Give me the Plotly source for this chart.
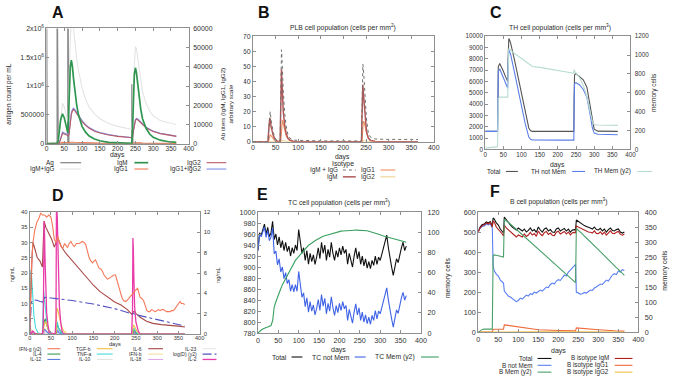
import plotly.graph_objects as go

W, H = 676, 383
FONT = "Liberation Sans, Arial, sans-serif"
AX = "#8f8f8f"
TXT = "#2a2a2a"

# ---------------- Panel A : antigen and antibody titers ----------------
A_ag_days = [0, 0, 2, 30, 30, 33, 60, 60, 63, 240, 240, 243, 365]
A_ag = [0, 3e6, 0, 0, 3e6, 0, 0, 3e6, 0, 0, 1.03e6, 0, 0]
A_days = [0, 30, 33, 36, 40, 45, 50, 55, 60, 62, 64, 67, 70, 73, 76, 80, 85, 90, 100, 110,
          120, 135, 150, 175, 200, 240, 242, 244, 247, 250, 253, 256, 260, 265, 270, 280, 290,
          300, 320, 340, 365]
A_igm_igg = [0, 0, 2000, 7000, 16000, 21000, 19000, 15000, 11500, 19000, 38000, 55000, 62000,
             64000, 60000, 52000, 44000, 38000, 29000, 23000, 19000, 15500, 13000, 10500, 9000,
             7500, 12000, 30000, 45000, 50500, 49500, 45000, 39000, 32000, 27000, 21000, 17000,
             14500, 12000, 11000, 10000]
A_igm = [0, 0, 1500, 6000, 12500, 15500, 13500, 9500, 5500, 14000, 30000, 40000, 43500, 40000,
         34000, 27000, 20000, 15000, 9000, 6000, 4000, 2400, 1500, 700, 350, 150, 8000, 24000,
         36000, 39500, 37000, 32000, 25000, 18000, 13000, 8000, 5000, 3300, 1800, 1100, 700]
A_igg1 = [0, 0, 0, 50, 300, 700, 600, 500, 400, 400, 500, 700, 800, 800, 750, 700, 650, 600, 500,
          400, 350, 300, 250, 200, 150, 120, 150, 300, 450, 500, 500, 480, 450, 400, 350, 300,
          250, 220, 180, 150, 120]
A_igg2 = [0, 0, 0, 200, 2500, 5300, 5000, 4600, 4300, 4100, 5600, 11400, 15300, 17000, 17800,
          17000, 15500, 14000, 11500, 9500, 8000, 6500, 5500, 4500, 3800, 3100, 3500, 6000, 9500,
          12000, 12700, 12500, 11800, 10800, 9800, 8300, 7200, 6300, 5200, 4500, 3800]
A_igg12 = [0, 0, 0, 250, 2800, 6000, 5600, 5100, 4700, 4500, 6100, 12100, 16100, 17800, 18550,
           17700, 16150, 14600, 12000, 9900, 8350, 6800, 5750, 4700, 3950, 3220, 3650, 6300, 9950,
           12500, 13200, 12980, 12250, 11200, 10150, 8600, 7450, 6520, 5380, 4650, 3920]

# ---------------- Panel B : PLB cells ----------------
B_days = [0, 33, 35, 37, 38, 40, 42, 45, 48, 52, 60, 61, 62, 63, 64, 65, 67, 70, 73, 77, 82, 90,
          150, 240, 241, 242, 243, 244, 246, 248, 251, 255, 260, 270, 300, 365]
B_all = [0, 0, 9, 19.5, 20, 14.5, 10.5, 6, 3, 1, 0.3, 20, 50, 61, 56, 47, 34, 19, 11, 5, 2.2, 1,
         0.5, 0.5, 15.5, 40, 51.5, 49, 40, 28, 15, 6, 3, 1.8, 1.5, 1.5]
B_igm = [0, 0, 8, 15.5, 15, 10, 7, 4, 2, 0.5, 0, 20, 46, 48, 40, 30, 20, 11, 6, 2.5, 1, 0.2, 0, 0,
         15, 35, 38, 33, 24, 15, 7, 2.5, 0.8, 0.2, 0, 0]
B_igg1 = [0, 0, 1, 3.5, 4.5, 4, 3, 1.5, 0.7, 0.2, 0, 0, 2, 6, 12, 14.5, 12, 7, 4, 1.8, 0.7, 0.1, 0,
          0, 0, 4, 10, 13.5, 13, 10, 6, 2.5, 1, 0.3, 0, 0]
B_igg2 = [0, 0, 0, 0.2, 0.3, 0.3, 0.2, 0.1, 0, 0, 0, 0, 0, 0.3, 0.6, 0.8, 0.7, 0.4, 0.2, 0.1, 0, 0,
          0, 0, 0, 0, 0.3, 0.6, 0.7, 0.5, 0.3, 0.1, 0, 0, 0, 0]

# ---------------- Panel C : TH cells ----------------
C_days = [0, 5, 10, 15, 20, 25, 30, 34, 35, 36, 40, 45, 50, 55, 60, 62, 63, 64, 65, 67, 70, 80,
          90, 100, 110, 120, 125, 130, 150, 200, 240, 244, 245, 246, 250, 260, 270, 280, 290, 295,
          300, 310, 365]
C_total = [1600, 1600, 1620, 1640, 1620, 1600, 1600, 1600, 4000, 7300, 7600, 7300, 6900, 6500,
           6100, 6000, 8000, 9600, 9800, 9700, 9400, 8000, 6400, 4800, 3200, 1900, 1650, 1600,
           1600, 1600, 1600, 1600, 5000, 6600, 6700, 6450, 6150, 5500, 3800, 2600, 1800, 1620, 1600]
C_notmem = [1600, 1600, 1620, 1650, 1620, 1600, 1600, 1600, 3800, 6900, 7100, 6700, 6300, 5900,
            5500, 5400, 7500, 8700, 8800, 8650, 8400, 6900, 5300, 3800, 2300, 1100, 900, 850, 830,
            830, 830, 830, 4500, 5800, 5900, 5700, 5300, 4600, 2900, 1900, 1450, 1350, 1300]
C_mem = [15, 18, 20, 22, 22, 25, 28, 30, 300, 540, 555, 555, 555, 555, 555, 555, 800, 1050, 1070,
         1065, 1050, 1020, 990, 960, 930, 900, 890, 880, 870, 840, 810, 805, 850, 830, 810, 760,
         680, 560, 380, 300, 265, 260, 255]

# ---------------- Panel D : cytokines ----------------
D_ifng_days = [0, 2, 4, 8, 12, 17, 22, 26, 30, 35, 40, 45, 50, 54, 58, 62, 66, 70, 74, 78,
               82, 86, 89, 93, 97, 101, 105, 110, 117, 124, 128, 132, 136, 140, 144, 148, 152, 155,
               159, 163, 167, 171, 175, 179, 183, 188, 194, 198, 202, 206, 210, 214, 217, 221, 225,
               229, 233, 237, 241, 245, 249, 254, 257, 260, 264, 268, 272, 276, 280, 283, 287, 291,
               295, 299, 303, 307, 311, 315, 318, 322, 326, 330, 334, 338, 342, 346, 350, 354, 357,
               361, 365]
D_ifng = [0, 4.5, 6.5, 9.1, 10.2, 11.0, 11.4, 11.9, 11.7, 11.7, 11.5, 11.7, 11.5, 10.6, 9.3, 9.0,
          9.6, 9.0, 8.6, 8.4, 8.9, 8.7, 8.5, 8.9, 9.1, 8.8, 8.6, 8.9, 8.9, 9.1, 9.0, 8.8, 8.1, 7.5,
          7.2, 7.0, 7.2, 7.3, 6.9, 6.5, 6.4, 6.2, 5.8, 5.6, 5.4, 5.5, 5.7, 5.8, 5.8, 5.2, 4.6, 4.0,
          3.6, 3.3, 3.2, 3.3, 3.5, 3.8, 4.0, 4.2, 4.3, 4.5, 3.9, 3.6, 3.5, 3.3, 2.8, 2.3, 2.2, 2.2,
          2.4, 2.3, 2.2, 2.3, 2.4, 2.3, 2.4, 2.4, 2.3, 2.2, 2.2, 2.2, 2.3, 2.3, 2.5, 2.7, 2.9, 3.2,
          3.0, 3.0, 2.9]
D_il6_days = [0, 3, 6, 8, 12, 18, 24, 30, 32, 34, 38, 45, 52, 58, 62, 65, 68, 75, 85, 100, 115,
              125, 140, 150, 165, 180, 200, 215, 230, 240, 243, 246, 250, 260, 275, 290, 310, 330,
              350, 365]
D_il6 = [0, 15, 27, 30, 28, 25, 24, 22, 30, 37, 35, 33, 31, 28.5, 30, 32, 31, 28.5, 26.5, 24,
         21.5, 20, 17.5, 16, 14, 12.5, 10.5, 9.5, 8, 6.5, 7, 7.5, 6.8, 5.5, 4.2, 3.5, 3.1, 2.9,
         2.6, 2.3]
D_il2_days = [0, 4, 7, 10, 14, 30, 32, 33, 34, 35, 36, 38, 40, 43, 46, 60, 62, 63, 64, 65, 66, 68,
              70, 73, 76, 80, 240, 242, 243, 244, 245, 247, 250, 253, 256, 260, 365]
D_il2 = [0, 0.3, 1, 0.5, 0, 0, 3, 20, 37, 33, 25, 14, 7, 3, 0.5, 0, 5, 41, 41, 38, 30, 17, 9, 4, 1,
         0, 0, 8, 31.5, 28, 20, 9, 4, 2, 0.8, 0, 0]
D_tnfa_days = [0, 1, 3, 5, 7, 10, 14, 20, 30, 32, 33, 35, 38, 42, 48, 60, 63, 65, 68, 73, 80, 240,
               243, 245, 250, 256, 365]
D_tnfa = [0, 10, 21, 18, 12, 6, 2, 0.3, 0, 6, 14, 11, 6, 2, 0.3, 0, 2, 4, 2, 0.5, 0, 0, 1.5, 2,
          0.7, 0, 0]
D_il12_days = [0, 5, 10, 30, 34, 37, 42, 50, 62, 65, 70, 80, 242, 245, 250, 365]
D_il12 = [0, 0.5, 0.2, 0, 1.5, 1.3, 0.5, 0, 0, 1, 0.3, 0, 0, 0.5, 0, 0]
D_il4_days = [0, 30, 34, 37, 40, 45, 52, 62, 65, 70, 78, 242, 246, 252, 365]
D_il4 = [0, 0, 4, 5, 3, 1, 0, 0, 3, 1.5, 0, 0, 1.5, 0, 0]
D_tgfb_days = [0, 30, 34, 38, 44, 50, 62, 64, 66, 70, 75, 80, 88, 242, 244, 247, 252, 258, 365]
D_tgfb = [0, 0, 3, 4, 1.5, 0, 0, 8.5, 8, 5, 2.5, 1, 0, 0, 3, 2.5, 1, 0, 0]
D_ifnb_days = [0, 2, 5, 10, 33, 35, 40, 48, 63, 65, 72, 80, 243, 245, 252, 365]
D_ifnb = [0, 2, 1, 0, 0, 2, 1, 0, 0, 1.5, 0.3, 0, 0, 1, 0, 0]
D_il10_days = [0, 33, 35, 45, 62, 64, 75, 243, 245, 255, 365]
D_il10 = [0, 0, 0.5, 0, 0, 1, 0, 0, 0.5, 0, 0]
D_il18_days = [0, 3, 8, 34, 36, 45, 64, 66, 75, 244, 246, 255, 365]
D_il18 = [0, 1, 0, 0, 1.5, 0, 0, 1.5, 0, 0, 1, 0, 0]
D_il23_days = [0, 33, 35, 45, 365]
D_il23 = [0, 0, 0.3, 0, 0]
D_logd_days = [0, 2, 4, 7, 15, 25, 30, 33, 36, 50, 75, 100, 150, 200, 240, 245, 250, 300, 365]
D_logd = [0, 2.5, 3.1, 3.3, 3.35, 3.2, 3.15, 3.4, 3.6, 3.55, 3.45, 3.3, 2.95, 2.5, 2.0, 2.0, 1.9,
          1.45, 0.8]

# ---------------- Panel E : TC cells ----------------
E_days = [0, 4, 8, 12, 16, 20, 24, 28, 32, 36, 40, 44, 48, 52, 56, 60, 64, 68, 72, 76,
          80, 84, 88, 92, 96, 100, 104, 108, 112, 116, 120, 124, 128, 132, 136, 140, 144, 148, 152, 156,
          160, 164, 168, 172, 176, 180, 184, 188, 192, 196, 200, 204, 208, 212, 216, 220, 224, 228, 232, 236,
          240, 244, 248, 252, 256, 260, 264, 268, 272, 276, 280, 284, 288, 292, 296, 300, 304, 308, 312, 316,
          320, 324, 328, 332, 336, 340, 344, 348, 352, 356, 360, 364]
E_total = [930, 962, 958, 970, 978, 960, 972, 955, 962, 983,
           950, 960, 940, 955, 935, 948, 930, 945, 928, 938,
           920, 935, 925, 940, 930, 968, 945, 925, 935, 912,
           930, 905, 925, 910, 922, 905, 918, 935, 915, 945,
           925, 940, 912, 932, 918, 945, 925, 912, 930, 918,
           935, 922, 938, 925, 932, 905, 925, 912, 900, 920,
           935, 915, 928, 905, 920, 902, 915, 898, 910, 897,
           912, 903, 920, 905, 918, 912, 925, 935, 945, 958,
           935, 915, 900, 885, 900, 915, 908, 925, 935, 945,
           930, 938]
E_notmem = [930, 960, 955, 966, 973, 954, 966, 948, 954, 971,
            924, 929, 904, 915, 891, 900, 879, 890, 870, 877,
            856, 868, 855, 868, 856, 892, 867, 845, 853, 828,
            844, 818, 837, 820, 831, 813, 825, 841, 821, 850,
            829, 843, 815, 834, 820, 846, 826, 812, 830, 817,
            834, 821, 837, 824, 830, 803, 823, 810, 798, 818,
            833, 813, 826, 803, 818, 800, 813, 797, 809, 796,
            812, 803, 821, 806, 820, 815, 828, 839, 849, 862,
            840, 820, 806, 791, 807, 822, 816, 833, 844, 854,
            840, 848]
E_mem = [0, 2, 3, 4, 5, 5.5, 6, 6.5, 7.5, 12,
         26, 31, 36, 40, 44, 48, 51, 55, 58, 61,
         64, 67, 70, 72, 74, 76, 78, 80, 82, 84,
         86, 87, 88, 89.5, 90.5, 91.5, 92.5, 93.5, 94, 95,
         96, 96.5, 97, 97.5, 98, 98.5, 99, 99.5, 100, 100.5,
         100.8, 101, 101.2, 101.4, 101.5, 101.6, 101.7, 101.8, 101.8, 101.9,
         102, 102, 102, 102, 101.9, 101.8, 101.6, 101.4, 101, 100.6,
         100.2, 99.7, 99.2, 98.6, 98, 97.4, 96.8, 96.3, 96, 95.7,
         95.5, 95, 94.4, 93.8, 93.2, 92.8, 92.3, 91.8, 91.3, 90.8,
         90.4, 90]

# ---------------- Panel F : B cells ----------------
F_days = [0, 5, 10, 15, 20, 25, 30, 35, 37, 40, 45, 50, 55, 60, 63, 65, 70, 75, 80, 85,
          90, 95, 100, 105, 110, 115, 120, 125, 130, 135, 140, 145, 150, 155, 160, 165, 170, 175,
          180, 185, 190, 195, 200, 205, 210, 215, 220, 225, 230, 235, 240, 243, 245, 250, 255, 260,
          265, 270, 275, 280, 285, 290, 295, 300, 305, 310, 315, 320, 325, 330, 335, 340, 345, 350,
          355, 360, 365]
F_total = [505, 526, 537, 540, 550, 545, 552, 530, 570, 565, 545, 535, 515, 505, 495, 575, 560,
           545, 535, 525, 515, 510, 520, 512, 505, 515, 500, 508, 520, 505, 512, 498, 525, 510,
           500, 515, 520, 505, 512, 500, 498, 515, 520, 505, 512, 518, 505, 515, 500, 510, 512,
           510, 560, 552, 545, 540, 532, 528, 522, 520, 515, 525, 512, 510, 518, 505, 515, 500,
           512, 520, 508, 505, 512, 515, 500, 495, 500]
F_notmem = [505, 520, 528, 530, 540, 535, 540, 520, 330, 305, 290, 280, 260, 250, 245, 205, 190,
            180, 175, 168, 160, 152, 158, 170, 165, 178, 185, 180, 192, 188, 200, 195, 205, 210,
            205, 218, 225, 222, 238, 245, 240, 255, 262, 258, 275, 285, 280, 300, 310, 320, 335,
            338, 200, 195, 190, 192, 198, 195, 205, 210, 208, 220, 225, 232, 240, 238, 252, 260,
            255, 270, 285, 292, 288, 305, 300, 312, 308]
F_mem = [0, 6, 9, 10, 10, 10, 10, 10, 255, 257, 256, 255, 253, 251, 250, 376, 372, 366, 360, 354,
         348, 342, 336, 330, 324, 318, 312, 306, 300, 294, 288, 282, 276, 270, 264, 258, 252, 246,
         240, 234, 228, 222, 216, 210, 204, 198, 192, 186, 180, 174, 168, 165, 345, 340, 333, 327,
         320, 314, 307, 301, 294, 288, 281, 275, 268, 261, 255, 248, 242, 235, 228, 222, 215, 209,
         202, 196, 189]
F_igm = [500, 522, 532, 536, 545, 540, 548, 525, 555, 550, 525, 515, 500, 490, 480, 535, 520, 510,
         500, 490, 482, 475, 485, 480, 475, 490, 478, 485, 498, 485, 492, 478, 505, 490, 482, 497,
         503, 488, 495, 484, 482, 499, 504, 490, 497, 503, 490, 500, 486, 496, 498, 496, 530, 525,
         518, 515, 508, 505, 500, 499, 495, 506, 493, 492, 501, 488, 499, 485, 497, 506, 494, 492,
         499, 503, 488, 484, 490]
F_igg1_days = [0, 30, 35, 37, 40, 63, 65, 70, 100, 150, 200, 243, 245, 250, 300, 340, 365]
F_igg1 = [0, 0, 2, 13, 14, 15, 36, 35, 25, 12, 8, 6, 21, 20, 12, 7, 5]
F_igg2_days = [0, 37, 65, 150, 245, 365]
F_igg2 = [0, 1, 2, 1, 1.5, 0.5]

DAY_TICKS = [0, 50, 100, 150, 200, 250, 300, 350, 400]

fig = go.Figure()


def px(x):
    return x / W


def py(y):
    return 1 - y / H


def aname(prefix, i):
    return prefix if i == 1 else f"{prefix}{i}"


def common(fs):
    return dict(showline=True, linecolor=AX, linewidth=1, ticks="inside", ticklen=3,
                tickcolor=AX, tickwidth=1, showgrid=False, zeroline=False, fixedrange=True,
                tickfont=dict(size=fs, color="#333", family=FONT))


layout_axes = {}


def setup_panel(xi, yl, yr, box, fs, left, right=None, xfs=None, xso=-1, yso=2):
    x0, x1, ytop, ybot = box
    xa = dict(domain=[px(x0), px(x1)], range=[0, 400], tickmode="array", tickvals=DAY_TICKS,
              anchor=aname("y", yl), mirror="ticks", ticklabelstandoff=xso, **common(xfs or fs))
    layout_axes[aname("xaxis", xi)] = xa
    ya = dict(domain=[py(ybot), py(ytop)], anchor=aname("x", xi),
              mirror=(False if yr else "ticks"), **common(fs), **left)
    layout_axes[aname("yaxis", yl)] = ya
    if yr:
        layout_axes[aname("yaxis", yr)] = dict(overlaying=aname("y", yl), side="right",
                                               anchor=aname("x", xi), ticklabelstandoff=yso,
                                               **common(fs), **right)


def line(x, y, style, xi, yi):
    fig.add_trace(go.Scatter(x=x, y=y, mode="lines", name=style["name"],
                             line=dict(color=style["color"], width=style.get("width", 1.1),
                                       dash=style.get("dash", "solid")),
                             xaxis=aname("x", xi), yaxis=aname("y", yi),
                             showlegend=False, hoverinfo="skip"))


def text(x, y, s, size, xanchor="center", angle=0, bold=False, color=TXT):
    fig.add_annotation(x=px(x), y=py(y), xref="paper", yref="paper", text=s, showarrow=False,
                       xanchor=xanchor, yanchor="middle", textangle=angle,
                       font=dict(size=size, family=FONT, color=color,
                                 weight=("bold" if bold else "normal")))


def legend(entries, cols, rows, fs):
    for i, st in enumerate(entries):
        c, r = divmod(i, len(rows))
        tx, l0, l1 = cols[c]
        y = rows[r]
        text(tx, y, st["name"], fs, xanchor="right")
        fig.add_shape(type="line", xref="paper", yref="paper", x0=px(l0), x1=px(l1),
                      y0=py(y), y1=py(y),
                      line=dict(color=st["color"], width=st.get("width", 1.1),
                                dash=st.get("dash", "solid")))


# ---------------- styles ----------------
sA = dict(ag=dict(name="Ag", color="#8a8a8a", width=1.3),
          igmg=dict(name="IgM+IgG", color="#e4e4e4"),
          igm=dict(name="IgM", color="#2f9650", width=1.7),
          igg1=dict(name="IgG1", color="#f07850"),
          igg2=dict(name="IgG2", color="#b85c6a"),
          igg12=dict(name="IgG1+IgG2", color="#7f8fe6"))
sB = dict(all=dict(name="IgM + IgG", color="#707070", dash="dot", width=1),
          igm=dict(name="IgM", color="#b05858", width=1.5),
          igg1=dict(name="IgG1", color="#f09060"),
          igg2=dict(name="IgG2", color="#f0d090"))
sC = dict(tot=dict(name="Total", color="#555555"),
          nm=dict(name="TH not Mem", color="#5b7fe8"),
          mem=dict(name="TH Mem (y2)", color="#b8dcd4"))
sD = dict(ifng=dict(name="IFN-g (y2)", color="#f47a5a"),
          il4=dict(name="IL-4", color="#3a9a5a"),
          il12=dict(name="IL-12", color="#5a7fe0"),
          tgfb=dict(name="TGF-b", color="#f2c040"),
          tnfa=dict(name="TNF-a", color="#40d8d8"),
          il10=dict(name="IL-10", color="#e2e2e2"),
          il6=dict(name="IL-6", color="#a84848"),
          ifnb=dict(name="IFN-b", color="#f2e0a0"),
          il18=dict(name="IL-18", color="#e0a8e8"),
          il23=dict(name="IL-23", color="#e6e6e6"),
          logd=dict(name="log(D) (y2)", color="#5050c0", dash="dashdot"),
          il2=dict(name="IL-2", color="#e83ca8", width=1.3))
sE = dict(tot=dict(name="Total", color="#111111"),
          nm=dict(name="TC not Mem", color="#3f63e6"),
          mem=dict(name="TC Mem (y2)", color="#3aa060"))
sF = dict(tot=dict(name="Total", color="#111111"),
          nm=dict(name="B not Mem", color="#5a7ff0"),
          mem=dict(name="B Mem (y2)", color="#4aa06a"),
          igm=dict(name="B isotype IgM", color="#b01e1e"),
          igg1=dict(name="B isotype IgG1", color="#f06a3a"),
          igg2=dict(name="B isotype IgG2", color="#f2c040"))

# ---------------- axes ----------------
setup_panel(1, 1, 2, (45, 189, 25, 143), 7,
            dict(range=[0, 2e6], tickmode="array", tickvals=[0, 5e5, 1e6, 1.5e6, 2e6],
                 ticktext=["0", "500000", "1x10<sup>6</sup>", "1.5x10<sup>6</sup>", "2x10<sup>6</sup>"]),
            dict(range=[0, 60000], dtick=10000, tick0=0, tickformat="d"), xfs=6.6, xso=-2)
setup_panel(2, 3, None, (254, 437, 33, 141), 7,
            dict(range=[0, 70], dtick=10, tick0=0, tickformat="d"))
setup_panel(3, 5, 6, (489, 636, 33, 149), 6.3,
            dict(range=[0, 10000], dtick=1000, tick0=0, tickformat="d"),
            dict(range=[0, 1200], dtick=200, tick0=0, tickformat="d"))
setup_panel(4, 7, 8, (28, 200, 213, 338), 5.8,
            dict(range=[0, 40], dtick=5, tick0=0, tickformat="d"),
            dict(range=[0, 12], dtick=2, tick0=0, tickformat="d"), xfs=5.5, xso=-2)
setup_panel(5, 9, 10, (259, 424, 213, 337), 7.2,
            dict(range=[780, 1000], dtick=20, tick0=780, tickformat="d"),
            dict(range=[0, 120], dtick=20, tick0=0, tickformat="d"), xso=0, yso=4)
setup_panel(6, 11, 12, (482, 644, 213, 336), 7.2,
            dict(range=[0, 600], dtick=100, tick0=0, tickformat="d"),
            dict(range=[0, 400], dtick=50, tick0=0, tickformat="d"), xso=0, yso=4)

# ---------------- traces ----------------
# A
line(A_ag_days, A_ag, sA["ag"], 1, 1)
line(A_days, A_igm_igg, sA["igmg"], 1, 2)
line(A_days, A_igg12, sA["igg12"], 1, 2)
line(A_days, A_igg1, sA["igg1"], 1, 2)
line(A_days, A_igg2, sA["igg2"], 1, 2)
line(A_days, A_igm, sA["igm"], 1, 2)
# B
line(B_days, B_igg2, sB["igg2"], 2, 3)
line(B_days, B_igg1, sB["igg1"], 2, 3)
line(B_days, B_igm, sB["igm"], 2, 3)
line(B_days, B_all, sB["all"], 2, 3)
# C
line(C_days, C_mem, sC["mem"], 3, 6)
line(C_days, C_total, sC["tot"], 3, 5)
line(C_days, C_notmem, sC["nm"], 3, 5)
# D
line(D_il23_days, D_il23, sD["il23"], 4, 7)
line(D_il10_days, D_il10, sD["il10"], 4, 7)
line(D_ifnb_days, D_ifnb, sD["ifnb"], 4, 7)
line(D_il18_days, D_il18, sD["il18"], 4, 7)
line(D_il12_days, D_il12, sD["il12"], 4, 7)
line(D_il4_days, D_il4, sD["il4"], 4, 7)
line(D_tnfa_days, D_tnfa, sD["tnfa"], 4, 7)
line(D_tgfb_days, D_tgfb, sD["tgfb"], 4, 7)
line(D_il6_days, D_il6, sD["il6"], 4, 7)
line(D_logd_days, D_logd, sD["logd"], 4, 8)
line(D_ifng_days, D_ifng, sD["ifng"], 4, 8)
line(D_il2_days, D_il2, sD["il2"], 4, 7)
# E
line(E_days, E_total, sE["tot"], 5, 9)
line(E_days, E_notmem, sE["nm"], 5, 9)
line(E_days, E_mem, sE["mem"], 5, 10)
# F
line(F_days, F_total, sF["tot"], 6, 11)
line(F_days, F_notmem, sF["nm"], 6, 11)
line(F_days, F_mem, sF["mem"], 6, 12)
line(F_days, F_igm, sF["igm"], 6, 11)
line(F_igg1_days, F_igg1, sF["igg1"], 6, 11)
line(F_igg2_days, F_igg2, sF["igg2"], 6, 11)

# cover: panel B's left tick labels are hidden behind panel A in the original montage
fig.add_shape(type="rect", xref="paper", yref="paper", x0=px(233.5), x1=px(244.5),
              y0=py(150), y1=py(28), fillcolor="white", line=dict(width=0), layer="above")

# ---------------- texts ----------------
for lab, x, y in [("A", 57, 9), ("B", 265, 9), ("C", 500, 9), ("D", 57, 196), ("E", 264, 195),
                  ("F", 499, 192)]:
    text(x, y, lab, 16, bold=True, color="#111")

text(345, 24, "PLB cell population (cells per mm<sup>2</sup>)", 6.8)
text(565, 24, "TH cell population (cells per mm<sup>3</sup>)", 6.8)
text(341, 203, "TC cell population (cells per mm<sup>3</sup>)", 6.8)
text(563, 202, "B cell population (cells per mm<sup>3</sup>)", 6.8)

text(117, 154.3, "days", 6.8)
text(345, 157, "days", 6.8)
text(345, 163.5, "Isotype", 6.8)
text(562, 165, "days", 6.8)
text(114, 348, "days", 5.6)
text(341, 354.5, "days", 7)
text(563, 355.5, "days", 7)

text(7, 92, "antigen count per mL", 6.5, angle=-90)
text(227.5, 102, "Ab titers (IgM, IgG1, IgG2)<br>arbitrary scale", 6.2, angle=-90)
text(660, 91, "memory cells", 6.5, angle=-90)
text(11, 277, "ng/mL", 5.6, angle=-90)
text(219, 277, "ng/mL", 5.6, angle=-90)
text(452, 280, "memory cells", 6.8, angle=-90)
text(671, 273, "memory cells", 6.8, angle=-90)

# ---------------- legends ----------------
legend([sA["ag"], sA["igmg"], sA["igm"], sA["igg1"], sA["igg2"], sA["igg12"]],
       [(55, 59, 80), (130, 134, 148), (203, 207, 227)], [162.5, 169], 6.3)
legend([sB["all"], sB["igm"], sB["igg1"], sB["igg2"]],
       [(342, 345, 358), (379, 383, 398)], [170, 177], 6.3)
legend([sC["tot"], sC["nm"], sC["mem"]],
       [(506, 510, 522), (573, 577, 590), (639, 643, 658)], [171.5], 6.3)
legend([sD["ifng"], sD["il4"], sD["il12"], sD["tgfb"], sD["tnfa"], sD["il10"],
        sD["il6"], sD["ifnb"], sD["il18"], sD["il23"], sD["logd"], sD["il2"]],
       [(43, 46, 59), (92, 96, 112), (144, 148, 163), (199, 203, 217)], [353, 358.5, 364], 5.0)
legend([sE["tot"], sE["nm"], sE["mem"]],
       [(290, 293, 304), (354, 357, 368), (420, 424, 442)], [361.5], 6.8)
legend([sF["tot"], sF["nm"], sF["mem"], sF["igm"], sF["igg1"], sF["igg2"]],
       [(538, 542, 556), (616, 620, 638)], [363, 370, 377], 6.3)

fig.update_layout(width=W, height=H, margin=dict(l=0, r=0, t=0, b=0, pad=0),
                  paper_bgcolor="white", plot_bgcolor="white", showlegend=False,
                  font=dict(family=FONT, color=TXT), **layout_axes)

fig.write_html("out.html", config={"displayModeBar": False},
               post_script="document.body.style.margin='0';document.body.style.overflow='hidden';")
